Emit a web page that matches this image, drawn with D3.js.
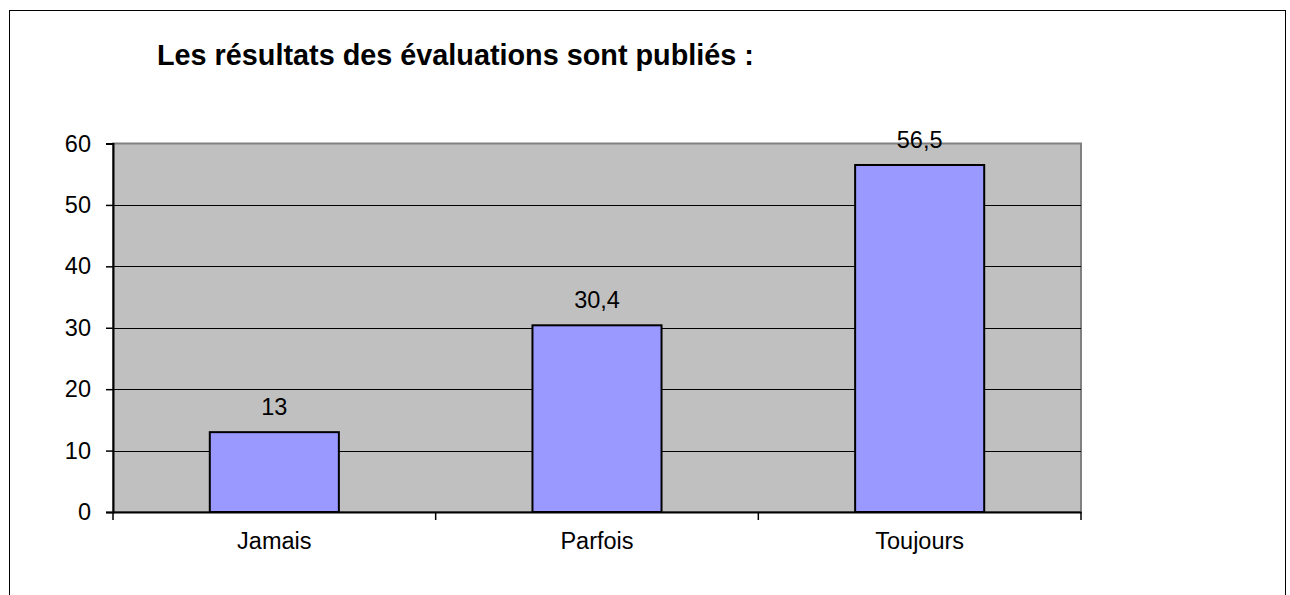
<!DOCTYPE html>
<html>
<head>
<meta charset="utf-8">
<script src="https://cdn.jsdelivr.net/npm/d3@7"></script>
<style>
  body { margin: 0; background: #fff; }
  svg text { font-family: "Liberation Sans", Arial, sans-serif; fill: #000; }
</style>
</head>
<body>
<svg id="chart" width="1290" height="595"></svg>
<script>
"use strict";
const categories = ["Jamais", "Parfois", "Toujours"];
const values = [13, 30.4, 56.5];
const valueLabels = ["13", "30,4", "56,5"];
const yTicks = [0, 10, 20, 30, 40, 50, 60];
const title = "Les résultats des évaluations sont publiés :";

const svg = d3.select("#chart");
const plot = { left: 113, right: 1081, top: 143.5, bottom: 512 };
const labelSize = 23.5;

// outer frame
svg.append("rect")
    .attr("x", 9.5).attr("y", 10.5)
    .attr("width", 1276).attr("height", 600)
    .attr("fill", "#fff").attr("stroke", "#000").attr("stroke-width", 1);

svg.append("text")
    .attr("x", 157).attr("y", 65)
    .attr("font-size", 28.8).attr("font-weight", "bold")
    .text(title);

const x = d3.scaleBand().domain(categories).range([plot.left, plot.right]).padding(0);
const y = d3.scaleLinear().domain([0, 60]).range([plot.bottom, plot.top]);

// plot background
svg.append("rect")
    .attr("x", plot.left).attr("y", plot.top)
    .attr("width", plot.right - plot.left).attr("height", plot.bottom - plot.top)
    .attr("fill", "#c0c0c0").attr("stroke", "#808080").attr("stroke-width", 2);

// gridlines
svg.append("g").selectAll("line")
    .data(yTicks.filter(d => d > 0 && d < 60))
    .join("line")
    .attr("x1", plot.left).attr("x2", plot.right)
    .attr("y1", d => Math.round(y(d)) + 0.5).attr("y2", d => Math.round(y(d)) + 0.5)
    .attr("stroke", "#000").attr("stroke-width", 1);

// bars
const barW = x.bandwidth() * 0.4;
svg.append("g").selectAll("rect")
    .data(values)
    .join("rect")
    .attr("x", (d, i) => x(categories[i]) + (x.bandwidth() - barW) / 2)
    .attr("y", d => y(d))
    .attr("width", barW)
    .attr("height", d => y(0) - y(d))
    .attr("fill", "#9999ff").attr("stroke", "#000").attr("stroke-width", 2);

// value labels
svg.append("g").selectAll("text")
    .data(values)
    .join("text")
    .attr("x", (d, i) => x(categories[i]) + x.bandwidth() / 2)
    .attr("y", d => y(d) - 17)
    .attr("text-anchor", "middle")
    .attr("font-size", labelSize)
    .text((d, i) => valueLabels[i]);

// y axis
const yAxis = svg.append("g")
    .attr("transform", `translate(${plot.left},0)`)
    .call(d3.axisLeft(y).tickValues(yTicks).tickSize(7).tickPadding(15).tickFormat(d3.format("d")));
yAxis.select(".domain").attr("stroke", "#000").attr("stroke-width", 2);
yAxis.selectAll(".tick line").attr("stroke", "#000").attr("stroke-width", 1.5);
yAxis.selectAll(".tick text").attr("font-size", labelSize).attr("font-family", null);

// x axis
const xAxis = svg.append("g")
    .attr("transform", `translate(0,${plot.bottom})`)
    .call(d3.axisBottom(x).tickSize(0).tickPadding(20));
xAxis.select(".domain").attr("stroke", "#000").attr("stroke-width", 2);
xAxis.selectAll(".tick text").attr("font-size", labelSize).attr("font-family", null);

// category separators on x axis
svg.append("g").selectAll("line")
    .data(categories.map(c => x(c)).concat([plot.right]))
    .join("line")
    .attr("x1", d => d).attr("x2", d => d)
    .attr("y1", plot.bottom).attr("y2", plot.bottom + 8)
    .attr("stroke", "#000").attr("stroke-width", 1.5);
</script>
</body>
</html>
